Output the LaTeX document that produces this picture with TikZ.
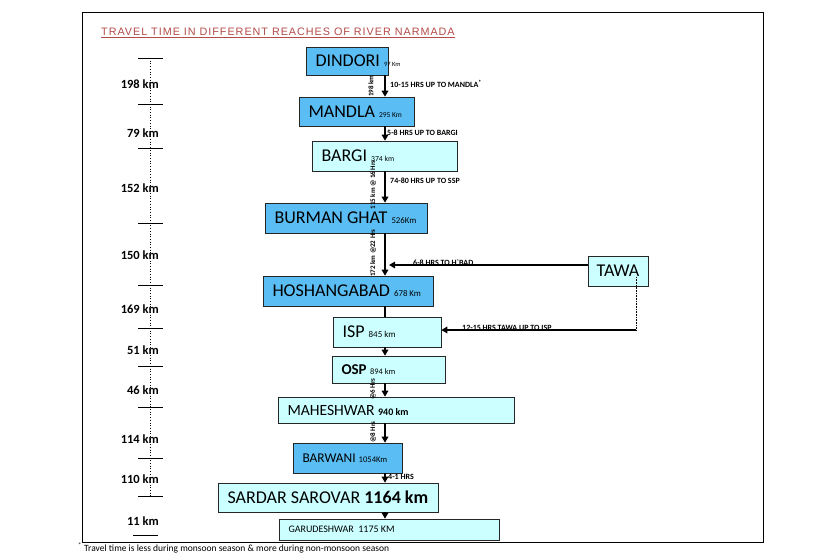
\documentclass[tikz,border=0pt]{standalone}
\usepackage{fontspec}
\setmainfont{Carlito}
\newfontfamily\titlefont[LetterSpace=9]{Liberation Sans}
\usepackage{tikz}
\usepackage{xcolor}
\usetikzlibrary{arrows.meta,calc}

\definecolor{riverblue}{RGB}{90,190,245}
\definecolor{rivercyan}{RGB}{204,255,255}
\definecolor{titlered}{RGB}{180,75,72}
\newcommand{\sz}[1]{\fontsize{#1}{#1}\selectfont}
\newcommand{\inreach}[2]{\makebox[#1][l]{#2}}

\tikzset{
  reach/.style={draw=black!85, line width=0.6pt, inner xsep=9.5pt, inner ysep=0pt, font=\sz{18}},
  bluereach/.style={reach, fill=riverblue},
  cyanreach/.style={reach, fill=rivercyan},
  flow/.style={line width=1.8pt, -{Triangle[length=6pt,width=6.5pt]}},
  hrs/.style={font=\bfseries\sz{8}, inner sep=0pt, anchor=west},
  alongkm/.style={font=\bfseries\sz{7}, inner sep=0pt, rotate=90},
  lenlabel/.style={font=\bfseries\sz{12.5}, inner sep=0pt, anchor=east},
  tick/.style={line width=0.8pt}
}

\begin{document}
\begin{tikzpicture}[x=1pt,y=-1pt]
\useasboundingbox (0,0) rectangle (828,554);
\draw[line width=0.9pt] (82,12) rectangle (763,542);

\node[font=\titlefont\sz{10.8}, text=titlered, anchor=base west, inner sep=0pt] (title) at (101,35) {TRAVEL TIME IN DIFFERENT REACHES OF RIVER NARMADA};
\draw[titlered, line width=1pt] ([yshift=-2pt]title.base west) -- ([yshift=-2pt]title.base east);

\draw[dotted, line width=0.7pt] (150,58) -- (150,496);
\foreach \y in {58,104,148,223,285,328,366,407,458,496}
  \draw[tick] (138,\y) -- (163,\y);
\draw[tick] (133,535) -- (158,535);
\foreach \y/\len [count=\i] in {84/198,133/79,188/152,255/150,309/169,350/51,390/46,439/114,479/110,521/11}
  \node[lenlabel] (len\i) at (159,\y) {\len\ km};

\node[bluereach, minimum height=28pt] (dindori) at (347,61) {\inreach{63pt}{DINDORI \sz{6.5}97 Km}};
\node[bluereach, minimum height=29pt] (mandla) at (356.5,111.5) {\inreach{96pt}{MANDLA \sz{7.5}295 Km}};
\node[cyanreach, minimum height=30pt] (bargi) at (384.5,156) {\inreach{126pt}{BARGI \sz{7.7}374 km}};
\node[bluereach, minimum height=30pt] (burman) at (346,218) {\inreach{143pt}{BURMAN GHAT \sz{8.8}526Km}};
\node[bluereach, minimum height=30pt] (hoshangabad) at (348,291) {\inreach{151pt}{HOSHANGABAD \sz{8.8}678 Km}};
\node[cyanreach, inner xsep=7pt, minimum width=60pt, minimum height=30pt] (tawa) at (618,271) {TAWA};
\node[cyanreach, minimum height=30pt] (isp) at (387,332) {\inreach{89pt}{ISP \sz{9}845 km}};
\node[cyanreach, minimum height=27pt] (osp) at (388.5,369.5) {\inreach{94pt}{\bfseries\sz{15}OSP \mdseries\sz{8.4}894 km}};
\node[cyanreach, minimum height=26pt] (maheshwar) at (396,410) {\inreach{217pt}{\sz{15.6}MAHESHWAR \bfseries\sz{10}940 km}};
\node[bluereach, minimum height=30pt] (barwani) at (347.5,458) {\inreach{90pt}{\sz{13.4}BARWANI \sz{8.6}1054Km}};
\node[cyanreach, minimum height=29pt] (sardar) at (328,497.5) {\inreach{201pt}{SARDAR SAROVAR \textbf{1164 km}}};
\node[cyanreach, minimum height=21pt] (garudeshwar) at (389,529.5) {\inreach{201pt}{\sz{10}GARUDESHWAR\ \ 1175 KM}};

\coordinate (spine) at (385,0);
\draw[flow] (dindori.south -| spine) -- (mandla.north -| spine);
\draw[flow] (mandla.south -| spine) -- (bargi.north -| spine);
\draw[flow] (bargi.south -| spine) -- (burman.north -| spine);
\draw[flow] (burman.south -| spine) -- (hoshangabad.north -| spine);
\draw[line width=1.8pt] (hoshangabad.south -| spine) -- (isp.north -| spine);
\draw[flow] (isp.south -| spine) -- (osp.north -| spine);
\draw[flow] (osp.south -| spine) -- (maheshwar.north -| spine);
\draw[flow] (maheshwar.south -| spine) -- (barwani.north -| spine);
\draw[flow] (barwani.south -| spine) -- (sardar.north -| spine);
\draw[flow] (sardar.south -| spine) -- (garudeshwar.north -| spine);

\coordinate (tawaout) at ([yshift=6pt]tawa.west);
\draw[flow] (tawaout) -- ($(tawaout -| spine)+(4,0)$);
\coordinate (tawadrop) at (636,330);
\draw[densely dotted, line width=0.6pt] ($(tawadrop |- tawa.center)+(0,6)$) -- (tawadrop);
\draw[flow] (tawadrop) -- (tawadrop -| isp.east);

\node[hrs] (dm) at (390,84) {10-15 HRS UP TO MANDLA\textsuperscript{*}};
\node[hrs] (mb) at (387,133) {5-8 HRS UP TO BARGI};
\node[hrs] (bs) at (390,181) {74-80 HRS UP TO SSP};
\node[hrs] (th) at (413,263) {6-8 HRS TO H\textasciigrave BAD};
\node[hrs] (ti) at (462,328) {12-15 HRS TAWA UP TO ISP};
\node[hrs] (bw) at (388,477) {4-1 HRS};

\node[alongkm] (k1) at (371,86) {198 km};
\node[alongkm] (k2) at (373,185) {115 km @ 16 Hrs};
\node[alongkm] (k3) at (373,253) {172 km @22 Hrs};
\node[alongkm] (k4) at (373,389) {@6 Hrs};
\node[alongkm] (k5) at (373,432) {@8 Hrs};

\node[anchor=base west, inner sep=0pt, font=\sz{9.5}] (note) at (78,551) {\textsuperscript{*} Travel time is less during monsoon season \& more during non-monsoon season};
\end{tikzpicture}
\end{document}
